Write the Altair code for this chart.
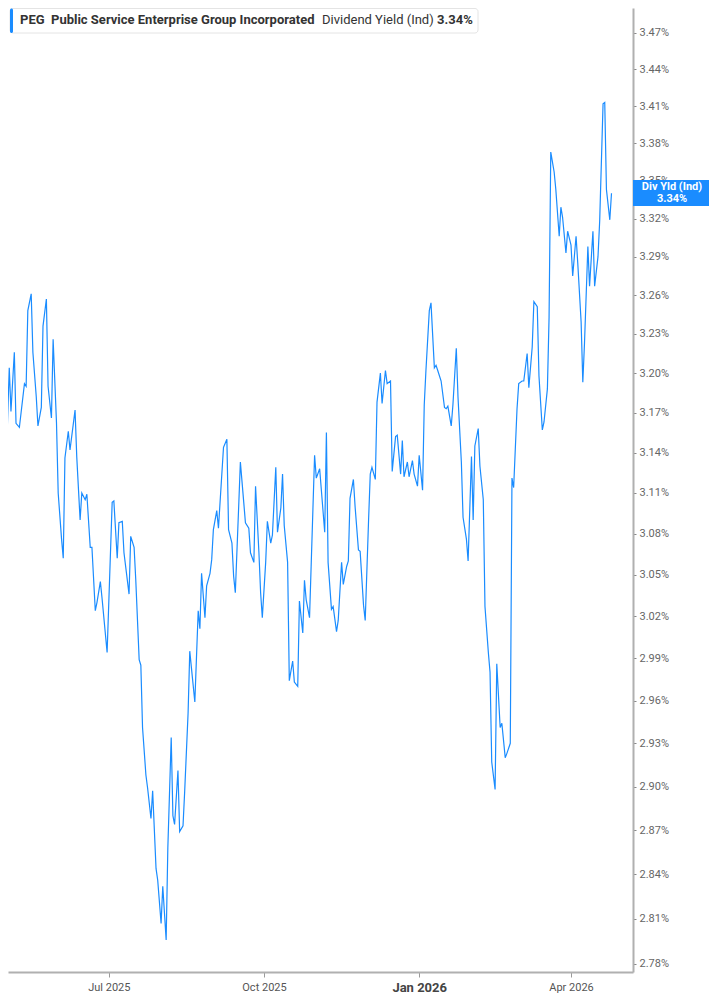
import altair as alt
import pandas as pd

dates = [
    "2025-04-28", "2025-04-30", "2025-05-03", "2025-05-04", "2025-05-06", "2025-05-07", "2025-05-09", "2025-05-10",
    "2025-05-12", "2025-05-13", "2025-05-14", "2025-05-16", "2025-05-17", "2025-05-19", "2025-05-20", "2025-05-22",
    "2025-05-23", "2025-05-25", "2025-05-26", "2025-05-28", "2025-05-29", "2025-05-31", "2025-06-01", "2025-06-03",
    "2025-06-04", "2025-06-05", "2025-06-07", "2025-06-08", "2025-06-10", "2025-06-11", "2025-06-12", "2025-06-14",
    "2025-06-15", "2025-06-17", "2025-06-18", "2025-06-20", "2025-06-21", "2025-06-23", "2025-06-24", "2025-06-26",
    "2025-06-27", "2025-06-30", "2025-07-03", "2025-07-04", "2025-07-06", "2025-07-07", "2025-07-09", "2025-07-10",
    "2025-07-13", "2025-07-14", "2025-07-16", "2025-07-17", "2025-07-19", "2025-07-20", "2025-07-21", "2025-07-23",
    "2025-07-24", "2025-07-26", "2025-07-27", "2025-07-29", "2025-07-30", "2025-08-01", "2025-08-02", "2025-08-04",
    "2025-08-05", "2025-08-07", "2025-08-08", "2025-08-09", "2025-08-11", "2025-08-12", "2025-08-14", "2025-08-15",
    "2025-08-17", "2025-08-18", "2025-08-21", "2025-08-23", "2025-08-24", "2025-08-25", "2025-08-27", "2025-08-28",
    "2025-08-30", "2025-08-31", "2025-09-01", "2025-09-03", "2025-09-04", "2025-09-07", "2025-09-09", "2025-09-10",
    "2025-09-12", "2025-09-13", "2025-09-14", "2025-09-16", "2025-09-17", "2025-09-19", "2025-09-20", "2025-09-22",
    "2025-09-23", "2025-09-25", "2025-09-26", "2025-09-28", "2025-09-29", "2025-09-30", "2025-10-02", "2025-10-03",
    "2025-10-05", "2025-10-06", "2025-10-08", "2025-10-09", "2025-10-11", "2025-10-12", "2025-10-13", "2025-10-15",
    "2025-10-16", "2025-10-18", "2025-10-19", "2025-10-21", "2025-10-22", "2025-10-24", "2025-10-25", "2025-10-26",
    "2025-10-28", "2025-10-31", "2025-11-01", "2025-11-03", "2025-11-06", "2025-11-07", "2025-11-08", "2025-11-10",
    "2025-11-11", "2025-11-13", "2025-11-14", "2025-11-16", "2025-11-17", "2025-11-19", "2025-11-20", "2025-11-21",
    "2025-11-23", "2025-11-24", "2025-11-26", "2025-11-27", "2025-11-29", "2025-11-30", "2025-12-02", "2025-12-03",
    "2025-12-04", "2025-12-06", "2025-12-07", "2025-12-09", "2025-12-10", "2025-12-12", "2025-12-13", "2025-12-15",
    "2025-12-16", "2025-12-18", "2025-12-19", "2025-12-21", "2025-12-22", "2025-12-23", "2025-12-25", "2025-12-26",
    "2025-12-28", "2025-12-29", "2025-12-31", "2026-01-01", "2026-01-03", "2026-01-04", "2026-01-05", "2026-01-07",
    "2026-01-08", "2026-01-10", "2026-01-11", "2026-01-12", "2026-01-14", "2026-01-16", "2026-01-17", "2026-01-18",
    "2026-01-20", "2026-01-21", "2026-01-23", "2026-01-24", "2026-01-26", "2026-01-27", "2026-01-29", "2026-01-30",
    "2026-02-01", "2026-02-02", "2026-02-03", "2026-02-05", "2026-02-06", "2026-02-08", "2026-02-09", "2026-02-11",
    "2026-02-12", "2026-02-13", "2026-02-15", "2026-02-16", "2026-02-18", "2026-02-19", "2026-02-21", "2026-02-22",
    "2026-02-24", "2026-02-25", "2026-02-26", "2026-02-28", "2026-03-01", "2026-03-03", "2026-03-04", "2026-03-06",
    "2026-03-07", "2026-03-09", "2026-03-10", "2026-03-12", "2026-03-13", "2026-03-15", "2026-03-16", "2026-03-18",
    "2026-03-19", "2026-03-20", "2026-03-22", "2026-03-23", "2026-03-25", "2026-03-26", "2026-03-27", "2026-03-29",
    "2026-03-30", "2026-04-01", "2026-04-02", "2026-04-04", "2026-04-05", "2026-04-07", "2026-04-08", "2026-04-09",
    "2026-04-11", "2026-04-12", "2026-04-14", "2026-04-15", "2026-04-17", "2026-04-18", "2026-04-20", "2026-04-21",
    "2026-04-22", "2026-04-24", "2026-04-25",
]

div_yield = [
    3.115, 3.088, 3.204, 3.171, 3.216, 3.162, 3.159, 3.170,
    3.192, 3.190, 3.248, 3.261, 3.216, 3.182, 3.160, 3.174,
    3.236, 3.257, 3.190, 3.166, 3.226, 3.162, 3.110, 3.076,
    3.062, 3.136, 3.156, 3.142, 3.162, 3.172, 3.137, 3.090,
    3.110, 3.105, 3.109, 3.070, 3.070, 3.024, 3.030, 3.045,
    3.033, 2.994, 3.103, 3.104, 3.062, 3.088, 3.089, 3.066,
    3.036, 3.078, 3.070, 3.046, 2.989, 2.985, 2.941, 2.908,
    2.899, 2.878, 2.897, 2.844, 2.836, 2.807, 2.832, 2.796,
    2.858, 2.934, 2.880, 2.874, 2.911, 2.869, 2.873, 2.897,
    2.951, 2.995, 2.959, 3.024, 3.011, 3.051, 3.019, 3.042,
    3.051, 3.061, 3.083, 3.097, 3.084, 3.144, 3.150, 3.083,
    3.073, 3.049, 3.037, 3.100, 3.133, 3.103, 3.088, 3.084,
    3.066, 3.059, 3.115, 3.066, 3.037, 3.019, 3.059, 3.089,
    3.073, 3.079, 3.129, 3.081, 3.099, 3.124, 3.086, 3.059,
    2.974, 2.988, 2.973, 2.970, 3.031, 3.008, 3.046, 3.032,
    3.019, 3.138, 3.121, 3.128, 3.081, 3.155, 3.059, 3.025,
    3.027, 3.009, 3.017, 3.059, 3.043, 3.056, 3.060, 3.106,
    3.120, 3.100, 3.068, 3.067, 3.028, 3.017, 3.090, 3.124,
    3.129, 3.120, 3.178, 3.200, 3.177, 3.202, 3.192, 3.194,
    3.126, 3.152, 3.153, 3.124, 3.149, 3.122, 3.133, 3.122,
    3.134, 3.124, 3.115, 3.138, 3.112, 3.176, 3.202, 3.248,
    3.254, 3.204, 3.206, 3.202, 3.194, 3.174, 3.173, 3.175,
    3.160, 3.176, 3.219, 3.182, 3.133, 3.092, 3.076, 3.060,
    3.137, 3.090, 3.145, 3.158, 3.130, 3.105, 3.027, 2.994,
    2.980, 2.917, 2.898, 2.986, 2.941, 2.944, 2.920, 2.923,
    2.930, 3.121, 3.114, 3.173, 3.192, 3.194, 3.194, 3.215,
    3.189, 3.220, 3.255, 3.251, 3.198, 3.157, 3.163, 3.188,
    3.243, 3.373, 3.357, 3.343, 3.306, 3.329, 3.321, 3.293,
    3.310, 3.299, 3.275, 3.306, 3.285, 3.239, 3.193, 3.223,
    3.298, 3.267, 3.310, 3.267, 3.290, 3.318, 3.412, 3.413,
    3.343, 3.319, 3.340,
]

y_ticks = [2.78, 2.81, 2.84, 2.87, 2.90, 2.93, 2.96, 2.99, 3.02, 3.05, 3.08, 3.11,
           3.14, 3.17, 3.20, 3.23, 3.26, 3.29, 3.32, 3.35, 3.38, 3.41, 3.44, 3.47]

x_ticks = [
    alt.DateTime(year=2025, month=7, date=1, utc=True),
    alt.DateTime(year=2025, month=10, date=1, utc=True),
    alt.DateTime(year=2026, month=1, date=1, utc=True),
    alt.DateTime(year=2026, month=4, date=1, utc=True),
]

ticker = "PEG"
company = "Public Service Enterprise Group Incorporated"
metric = "Dividend Yield (Ind)"
last_label = "3.34%"
tag_label = "Div Yld (Ind)"

BLUE = "#1a8cff"
FONT = "Roboto"

df = pd.DataFrame({"date": dates, "yield": div_yield})

x_scale = alt.Scale(
    type="utc",
    domain=[
        alt.DateTime(year=2025, month=5, date=2, hours=6, utc=True),
        alt.DateTime(year=2026, month=5, date=7, hours=18, utc=True),
    ],
)
y_scale = alt.Scale(type="log", domain=[2.7747, 3.4907], nice=False, zero=False)

line = alt.Chart(df).mark_line(color=BLUE, strokeWidth=1.2, clip=True).encode(
    x=alt.X(
        "date:T",
        scale=x_scale,
        title=None,
        axis=alt.Axis(
            values=x_ticks,
            labelExpr="utcFormat(datum.value, '%b %Y')",
            labelFont=FONT,
            labelFontSize={"condition": {"test": "utcmonth(datum.value) == 0", "value": 13}, "value": 11},
            labelFontWeight={"condition": {"test": "utcmonth(datum.value) == 0", "value": "bold"}, "value": "normal"},
            labelColor={"condition": {"test": "utcmonth(datum.value) == 0", "value": "#444444"}, "value": "#555555"},
            labelPadding=4,
            labelFlush=False,
            labelOverlap=False,
            tickSize=5,
            tickColor="#9a9a9a",
            tickWidth=1,
            domainColor="#b0b0b0",
            domainWidth=2,
            grid=False,
        ),
    ),
    y=alt.Y(
        "yield:Q",
        scale=y_scale,
        title=None,
        axis=alt.Axis(
            orient="right",
            values=y_ticks,
            labelExpr="format(datum.value, '.2f') + '%'",
            labelFont=FONT,
            labelFontSize=11,
            labelColor="#666666",
            labelPadding=3,
            tickSize=3,
            tickColor="#888888",
            domainColor="#b0b0b0",
            domainWidth=2,
            grid=False,
            labelOverlap=False,
        ),
    ),
)

one = alt.Data(values=[{}])

hdr_box = alt.Chart(one).mark_rect(
    fill="white", stroke="#e4e4e4", strokeWidth=1, cornerRadius=3
).encode(x=alt.value(2), x2=alt.value(470), y=alt.value(0.5), y2=alt.value(25))

hdr_bar = alt.Chart(one).mark_rect(fill=BLUE, cornerRadius=1.5).encode(
    x=alt.value(2), x2=alt.value(5), y=alt.value(0.5), y2=alt.value(25)
)

def hdr_text(txt, xpos, weight):
    return alt.Chart(one).mark_text(
        text=txt, align="left", baseline="middle", font=FONT, fontSize=13,
        fontWeight=weight, color="#333333"
    ).encode(x=alt.value(xpos), y=alt.value(12))

t1 = hdr_text(ticker, 12, "bold")
t2 = hdr_text(company, 43, "bold")
t3 = hdr_text(metric, 314, "normal")
t4 = hdr_text(last_label, 429, "bold")

tag_box = alt.Chart(one).mark_rect(fill=BLUE).encode(
    x=alt.value(625), x2=alt.value(701), y=alt.value(172), y2=alt.value(198)
)
tag1 = alt.Chart(one).mark_text(
    text=tag_label, align="center", baseline="middle", font=FONT,
    fontSize=11, fontWeight="bold", color="white"
).encode(x=alt.value(664), y=alt.value(179))
tag2 = alt.Chart(one).mark_text(
    text=last_label, align="center", baseline="middle", font=FONT,
    fontSize=11, fontWeight="bold", color="white"
).encode(x=alt.value(664), y=alt.value(190.5))

chart = alt.layer(
    line, hdr_box, hdr_bar, t1, t2, t3, t4, tag_box, tag1, tag2
).properties(
    width=625, height=964, padding={"left": 0, "top": 0, "right": 0, "bottom": 0}
).configure_view(stroke=None)

chart.save("out.html", embed_options={"renderer": "svg", "actions": False})
